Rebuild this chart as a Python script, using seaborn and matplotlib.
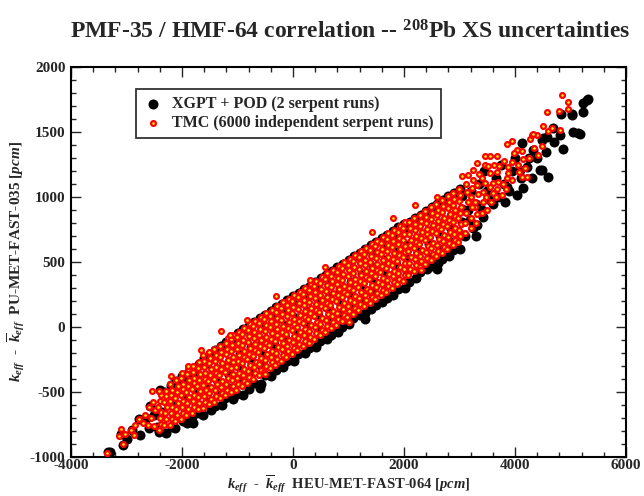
import matplotlib
matplotlib.use("Agg")
import matplotlib.pyplot as plt
from matplotlib.ticker import MultipleLocator
import seaborn as sns
import pandas as pd

# ---------------- data (pcm) ----------------
tmc_xy = [
    # lower-left tail
    (-3357,-971),(-3135,-836),(-3099,-785),(-3027,-825),(-3069,-902),(-2919,-792),(-2865,-831),
    (-2769,-710),(-2840,-750),(-2607,-754),(-2595,-613),(-2535,-492),(-2660,-680),(-2560,-700),
    (-2500,-760),(-2480,-640),(-2520,-580),(-2700,-740),
    # band
    (-2420,-792),(-2385,-747),(-2405,-702),(-2375,-657),(-2425,-612),(-2390,-567),(-2380,-522),(-2410,-492),
    (-2320,-754),(-2285,-709),(-2305,-664),(-2275,-619),(-2325,-574),(-2290,-529),(-2280,-489),
    (-2220,-751),(-2185,-706),(-2205,-661),(-2175,-616),(-2225,-571),(-2190,-526),(-2180,-481),(-2210,-436),
    (-2120,-723),(-2085,-678),(-2105,-633),(-2075,-588),(-2125,-543),(-2090,-498),(-2080,-453),(-2110,-408),
    (-2020,-705),(-1985,-660),(-2005,-615),(-1975,-570),(-2025,-525),(-1990,-480),(-1980,-435),(-2010,-390),(-1995,-350),
    (-1920,-677),(-1885,-632),(-1905,-587),(-1875,-542),(-1925,-497),(-1890,-452),(-1880,-407),(-1910,-362),(-1895,-322),
    (-1820,-659),(-1785,-614),(-1805,-569),(-1775,-524),(-1825,-479),(-1790,-434),(-1780,-389),(-1810,-344),(-1795,-299),
    (-1720,-631),(-1685,-586),(-1705,-541),(-1675,-496),(-1725,-451),(-1690,-406),(-1680,-361),(-1710,-316),(-1695,-271),
    (-1620,-623),(-1585,-578),(-1605,-533),(-1575,-488),(-1625,-443),(-1590,-398),(-1580,-353),(-1610,-308),(-1595,-263),(-1615,-218),
    (-1520,-595),(-1485,-550),(-1505,-505),(-1475,-460),(-1525,-415),(-1490,-370),(-1480,-325),(-1510,-280),(-1495,-235),(-1515,-190),
    (-1420,-577),(-1385,-532),(-1405,-487),(-1375,-442),(-1425,-397),(-1390,-352),(-1380,-307),(-1410,-262),(-1395,-217),(-1415,-172),
    (-1320,-549),(-1285,-504),(-1305,-459),(-1275,-414),(-1325,-369),(-1290,-324),(-1280,-279),(-1310,-234),(-1295,-189),(-1315,-144),
    (-1220,-526),(-1185,-481),(-1205,-436),(-1175,-391),(-1225,-346),(-1190,-301),(-1180,-256),(-1210,-211),(-1195,-166),(-1215,-121),(-1180,-86),
    (-1120,-498),(-1085,-453),(-1105,-408),(-1075,-363),(-1125,-318),(-1090,-273),(-1080,-228),(-1110,-183),(-1095,-138),(-1115,-93),(-1080,-58),
    (-1020,-485),(-985,-440),(-1005,-395),(-975,-350),(-1025,-305),(-990,-260),(-980,-215),(-1010,-170),(-995,-125),(-1015,-80),(-980,-35),
    (-920,-457),(-885,-412),(-905,-367),(-875,-322),(-925,-277),(-890,-232),(-880,-187),(-910,-142),(-895,-97),(-915,-52),(-880,-7),
    (-820,-429),(-785,-384),(-805,-339),(-775,-294),(-825,-249),(-790,-204),(-780,-159),(-810,-114),(-795,-69),(-815,-24),(-780,21),
    (-720,-401),(-685,-356),(-705,-311),(-675,-266),(-725,-221),(-690,-176),(-680,-131),(-710,-86),(-695,-41),(-715,4),(-680,49),
    (-620,-373),(-585,-328),(-605,-283),(-575,-238),(-625,-193),(-590,-148),(-580,-103),(-610,-58),(-595,-13),(-615,32),(-580,77),
    (-520,-345),(-485,-300),(-505,-255),(-475,-210),(-525,-165),(-490,-120),(-480,-75),(-510,-30),(-495,15),(-515,60),(-480,105),
    (-420,-317),(-385,-272),(-405,-227),(-375,-182),(-425,-137),(-390,-92),(-380,-47),(-410,-2),(-395,43),(-415,88),(-380,133),
    (-320,-289),(-285,-244),(-305,-199),(-275,-154),(-325,-109),(-290,-64),(-280,-19),(-310,26),(-295,71),(-315,116),(-280,161),
    (-220,-261),(-185,-216),(-205,-171),(-175,-126),(-225,-81),(-190,-36),(-180,9),(-210,54),(-195,99),(-215,144),(-180,189),
    (-120,-233),(-85,-188),(-105,-143),(-75,-98),(-125,-53),(-90,-8),(-80,37),(-110,82),(-95,127),(-115,172),(-80,217),
    (-20,-205),(15,-160),(-5,-115),(25,-70),(-25,-25),(10,20),(20,65),(-10,110),(5,155),(-15,200),(20,245),
    (80,-177),(115,-132),(95,-87),(125,-42),(75,3),(110,48),(120,93),(90,138),(105,183),(85,228),(120,273),
    (180,-149),(215,-104),(195,-59),(225,-14),(175,31),(210,76),(220,121),(190,166),(205,211),(185,256),(220,301),
    (280,-121),(315,-76),(295,-31),(325,14),(275,59),(310,104),(320,149),(290,194),(305,239),(285,284),(320,329),
    (380,-93),(415,-48),(395,-3),(425,42),(375,87),(410,132),(420,177),(390,222),(405,267),(385,312),(420,357),
    (480,-65),(515,-20),(495,25),(525,70),(475,115),(510,160),(520,205),(490,250),(505,295),(485,340),(520,385),
    (580,-37),(615,8),(595,53),(625,98),(575,143),(610,188),(620,233),(590,278),(605,323),(585,368),(620,413),
    (680,-9),(715,36),(695,81),(725,126),(675,171),(710,216),(720,261),(690,306),(705,351),(685,396),(720,441),
    (780,19),(815,64),(795,109),(825,154),(775,199),(810,244),(820,289),(790,334),(805,379),(785,424),(820,469),
    (880,47),(915,92),(895,137),(925,182),(875,227),(910,272),(920,317),(890,362),(905,407),(885,452),(920,497),
    (980,75),(1015,120),(995,165),(1025,210),(975,255),(1010,300),(1020,345),(990,390),(1005,435),(985,480),(1020,525),
    (1080,103),(1115,148),(1095,193),(1125,238),(1075,283),(1110,328),(1120,373),(1090,418),(1105,463),(1085,508),(1120,553),
    (1180,131),(1215,176),(1195,221),(1225,266),(1175,311),(1210,356),(1220,401),(1190,446),(1205,491),(1185,536),(1220,581),
    (1280,159),(1315,204),(1295,249),(1325,294),(1275,339),(1310,384),(1320,429),(1290,474),(1305,519),(1285,564),(1320,609),
    (1380,187),(1415,232),(1395,277),(1425,322),(1375,367),(1410,412),(1420,457),(1390,502),(1405,547),(1385,592),(1420,637),
    (1480,215),(1515,260),(1495,305),(1525,350),(1475,395),(1510,440),(1520,485),(1490,530),(1505,575),(1485,620),(1520,665),
    (1580,243),(1615,288),(1595,333),(1625,378),(1575,423),(1610,468),(1620,513),(1590,558),(1605,603),(1585,648),(1620,693),
    (1680,271),(1715,316),(1695,361),(1725,406),(1675,451),(1710,496),(1720,541),(1690,586),(1705,631),(1685,676),(1720,721),
    (1780,299),(1815,344),(1795,389),(1825,434),(1775,479),(1810,524),(1820,569),(1790,614),(1805,659),(1785,704),(1820,749),
    (1880,327),(1915,372),(1895,417),(1925,462),(1875,507),(1910,552),(1920,597),(1890,642),(1905,687),(1885,732),(1920,777),
    (1980,355),(2015,400),(1995,445),(2025,490),(1975,535),(2010,580),(2020,625),(1990,670),(2005,715),(1985,760),(2020,805),
    (2080,403),(2115,448),(2095,493),(2125,538),(2075,583),(2110,628),(2120,673),(2090,718),(2105,763),(2085,808),
    (2180,431),(2215,476),(2195,521),(2225,566),(2175,611),(2210,656),(2220,701),(2190,746),(2205,791),(2185,836),
    (2280,459),(2315,504),(2295,549),(2325,594),(2275,639),(2310,684),(2320,729),(2290,774),(2305,819),(2285,864),
    (2380,487),(2415,532),(2395,577),(2425,622),(2375,667),(2410,712),(2420,757),(2390,802),(2405,847),(2385,892),
    (2480,515),(2515,560),(2495,605),(2525,650),(2475,695),(2510,740),(2520,785),(2490,830),(2505,875),(2485,920),
    (2580,543),(2615,588),(2595,633),(2625,678),(2575,723),(2610,768),(2620,813),(2590,858),(2605,903),(2585,948),
    (2680,571),(2715,616),(2695,661),(2725,706),(2675,751),(2710,796),(2720,841),(2690,886),(2705,931),(2685,976),
    (2780,599),(2815,644),(2795,689),(2825,734),(2775,779),(2810,824),(2820,869),(2790,914),(2805,959),(2785,1004),
    (2880,627),(2915,672),(2895,717),(2925,762),(2875,807),(2910,852),(2920,897),(2890,942),(2905,987),(2885,1032),
    (2980,655),(3015,700),(2995,745),(3025,790),(2975,835),(3010,880),(3020,925),(2990,970),(3005,1015),(2985,1060),
    # ragged edges
    (-1303,-31),(-834,54),(-1135,-62),(-1650,-180),(-300,240),(577,464),(1418,733),(1808,842),
    (2198,938),(2589,1002),(-2200,-380),(-500,-360),(1000,40),(2300,440),(-1900,-300),(300,360),
    # upper sparse part
    (3040,1161),(3159,1169),(3249,1207),(3310,1264),(3460,1246),(3460,1315),(3550,1315),(3670,1315),
    (3851,1410),(3941,1428),(4031,1361),(4121,1356),(4271,1445),(4301,1476),(4391,1476),(4481,1392),
    (4601,1504),(4661,1528),(4811,1515),(4499,1548),(4331,1482),(3880,1233),(3941,1271),(4181,1220),
    (4121,1156),(4211,1156),(3550,1182),(3670,1194),(3880,1182),(3851,1143),(3700,1117),(3610,1105),
    (3460,1105),(3550,1079),(3760,1015),(3610,1028),(3430,964),(3280,964),(3280,925),
    (3100,720),(3100,800),(3120,880),(3150,960),(3130,1040),(3110,1100),(3200,760),(3210,840),
    (3230,920),(3200,1000),(3220,1070),(3250,1130),(3300,800),(3320,870),(3340,1020),(3310,1090),
    (3350,1180),(3400,880),(3420,1040),(3400,1150),(3480,1000),(3500,900),(3520,1240),(3560,960),
    (3620,1250),(3650,1000),(3680,1060),(3720,1240),(3780,1100),(3800,1280),(3830,1060),(3950,1130),
    (3980,1340),(4050,1250),(4080,1190),(4150,1290),(4250,1300),(4350,1380),(4420,1320),
    (4841,1784),(4961,1733),(4961,1676),(4799,1658),(4577,1656),
]

xgpt_xy = [
    # lower-left tail
    (-3298,-959),(-3340,-960),(-3057,-907),(-2907,-792),(-2757,-831),(-2769,-710),(-2577,-608),
    (-2397,-484),(-2456,-766),(-2366,-651),(-3100,-820),(-3000,-860),(-2650,-700),(-2600,-780),(-2500,-680),
    # lower edge of band
    (-2420,-810),(-2290,-815),(-2180,-770),(-2120,-775),(-1980,-725),(-1910,-735),(-1820,-690),
    (-1690,-660),(-1620,-675),(-1480,-640),(-1410,-605),(-1280,-600),(-1220,-545),(-1090,-555),
    (-1010,-515),(-900,-520),(-790,-480),(-710,-430),(-580,-440),(-510,-370),(-390,-375),(-310,-330),
    (-180,-310),(-110,-265),(10,-260),(90,-210),(210,-200),(290,-165),(410,-150),(490,-110),
    (610,-90),(690,-60),(810,-35),(890,0),(1010,20),(1090,70),(1210,90),(1290,110),(1410,135),
    (1490,170),(1610,190),(1690,225),(1810,250),(1890,295),(2010,300),(2090,350),(2210,375),
    (2290,420),(2410,445),(2490,470),(2610,490),(2690,525),(2810,545),(2890,590),(3010,600),
    (-600,-470),(1300,60),(2600,450),(-1800,-740),(3300,700),
    # upper edge of band
    (-2300,-499),(-2200,-446),(-2100,-418),(-2000,-380),(-1900,-352),(-1800,-314),(-1700,-281),
    (-1600,-238),(-1500,-210),(-1400,-177),(-1300,-144),(-1200,-116),(-1100,-83),(-1000,-45),
    (-900,-17),(-800,11),(-700,39),(-600,67),(-500,95),(-400,123),(-300,151),(-200,179),(-100,207),
    (0,235),(100,263),(200,291),(300,319),(400,347),(500,375),(600,403),(700,431),(800,459),
    (900,487),(1000,515),(1100,543),(1200,571),(1300,599),(1400,627),(1500,655),(1600,683),
    (1700,711),(1800,739),(1900,767),(2000,795),(2100,808),(2200,836),(2300,864),(2400,892),
    (2500,920),(2600,948),(2700,976),(2800,1004),(2900,1032),(3000,1060),
    # interior
    (-2150,-686),(-2150,-586),(-2150,-486),(-1950,-630),(-1950,-530),(-1950,-430),
    (-1750,-594),(-1750,-494),(-1750,-394),(-1750,-324),(-1550,-578),(-1550,-478),(-1550,-378),(-1550,-278),
    (-1350,-522),(-1350,-422),(-1350,-322),(-1350,-222),(-1150,-466),(-1150,-366),(-1150,-266),(-1150,-166),
    (-950,-410),(-950,-310),(-950,-210),(-950,-110),(-750,-354),(-750,-254),(-750,-154),(-750,-54),
    (-550,-298),(-550,-198),(-550,-98),(-550,2),(-350,-242),(-350,-142),(-350,-42),(-350,58),
    (-150,-186),(-150,-86),(-150,14),(-150,114),(50,-130),(50,-30),(50,70),(50,170),
    (250,-74),(250,26),(250,126),(250,226),(450,-18),(450,82),(450,182),(450,282),
    (650,38),(650,138),(650,238),(650,338),(850,94),(850,194),(850,294),(850,394),
    (1050,150),(1050,250),(1050,350),(1050,450),(1250,206),(1250,306),(1250,406),(1250,506),
    (1450,262),(1450,362),(1450,462),(1450,562),(1650,318),(1650,418),(1650,518),(1650,618),
    (1850,374),(1850,474),(1850,574),(1850,674),(2050,430),(2050,530),(2050,630),(2050,730),
    (2250,486),(2250,586),(2250,686),(2250,786),(2450,542),(2450,642),(2450,742),(2450,842),
    (2650,598),(2650,698),(2650,798),(2650,898),(2850,654),(2850,754),(2850,854),(2850,954),
    (3050,710),(3050,810),(3050,910),(3050,1010),
    # upper sparse part and top-right
    (3430,848),(3310,784),(3190,823),(3550,977),(3821,964),(4031,1015),(3851,1079),(4151,1066),
    (4091,1207),(4211,1233),(4451,1207),(4601,1156),(4481,1207),(4331,1361),(4481,1438),(4121,1415),
    (4511,1451),(4571,1463),(4691,1528),(4811,1476),(4871,1370),(5051,1502),(5141,1489),(5171,1484),
    (4823,1636),(5022,1630),(5034,1636),(5232,1656),(5232,1720),(5292,1746),(5322,1751),
    (3100,700),(3150,900),(3200,1050),(3250,760),(3300,950),(3350,1100),(3400,900),(3450,1200),
    (3500,1050),(3600,950),(3650,1150),(3700,1000),(3750,1250),(3800,1100),(3900,1050),(3950,1200),
    (4000,1300),(4100,1150),(4250,1300),(4300,1150),(4400,1300),(4550,1350),(4700,1420),
]

series_labels = ["XGPT + POD (2 serpent runs)", "TMC (6000 independent serpent runs)"]
x_ticks = [-4000, -2000, 0, 2000, 4000, 6000]
y_ticks = [-1000, -500, 0, 500, 1000, 1500, 2000]

xgpt = pd.DataFrame(xgpt_xy, columns=["x", "y"])
tmc = pd.DataFrame(tmc_xy, columns=["x", "y"])

# ---------------- style ----------------
sns.set_style("ticks")
plt.rcParams.update({
    "font.family": ["Liberation Serif", "DejaVu Serif"],
    "font.weight": "bold",
    "mathtext.fontset": "custom",
    "mathtext.rm": "Liberation Serif:bold",
    "mathtext.it": "Liberation Serif:italic:bold",
    "mathtext.bf": "Liberation Serif:bold",
    "axes.unicode_minus": False,
})

fig = plt.figure(figsize=(6.44, 4.96), dpi=100)
ax = fig.add_axes([71/644, 1-457/496, (626-71)/644, (457-67)/496])

sns.scatterplot(data=xgpt, x="x", y="y", ax=ax, color="black", s=52, linewidth=0,
                marker="o", label=series_labels[0], zorder=2)
sns.scatterplot(data=tmc, x="x", y="y", ax=ax, color="#ffff00", s=12, edgecolor="#ff0000",
                linewidth=1.6, marker="o", label=series_labels[1], zorder=3)

ax.set_xlim(-4000, 6000)
ax.set_ylim(-1000, 2000)
ax.set_xticks(x_ticks)
ax.set_yticks(y_ticks)
ax.xaxis.set_minor_locator(MultipleLocator(400))
ax.yaxis.set_minor_locator(MultipleLocator(100))
ax.tick_params(which="both", direction="in", top=True, right=True, width=1.0, labelsize=11)
ax.tick_params(which="major", length=7)
ax.tick_params(which="minor", length=3.5)
ax.tick_params(axis="x", pad=1.5)
ax.tick_params(axis="y", pad=4)
for lab in ax.get_xticklabels() + ax.get_yticklabels():
    lab.set_fontweight("bold")
for sp in ax.spines.values():
    sp.set_linewidth(1.5)
    sp.set_color("black")

ax.set_xlabel(r"$k_{eff}$  -  $\overline{k}_{eff}$  HEU-MET-FAST-064 [$pcm$]", fontsize=10.5,
              fontweight="bold", va="bottom")
ax.xaxis.set_label_coords(0.5, -(495 - 457) / 390)
ax.set_ylabel(r"$k_{eff}$  -  $\overline{k}_{eff}$  PU-MET-FAST-035 [$pcm$]", fontsize=11,
              fontweight="bold", labelpad=2)

fig.text(350/644, 1-32/496, r"PMF-35 / HMF-64 correlation -- $^{208}$Pb XS uncertainties",
         ha="center", va="center", fontsize=17, fontweight="bold")

leg = ax.legend(loc="upper left", bbox_to_anchor=(0.117, 0.944), borderaxespad=0,
                frameon=True, fancybox=False, handletextpad=0.6,
                borderpad=0.45, labelspacing=0.2, handlelength=1.2,
                prop={"weight": "bold", "size": 11.5})
leg.get_frame().set_edgecolor("black")
leg.get_frame().set_linewidth(1.3)

fig.savefig("out.png", dpi=100)
